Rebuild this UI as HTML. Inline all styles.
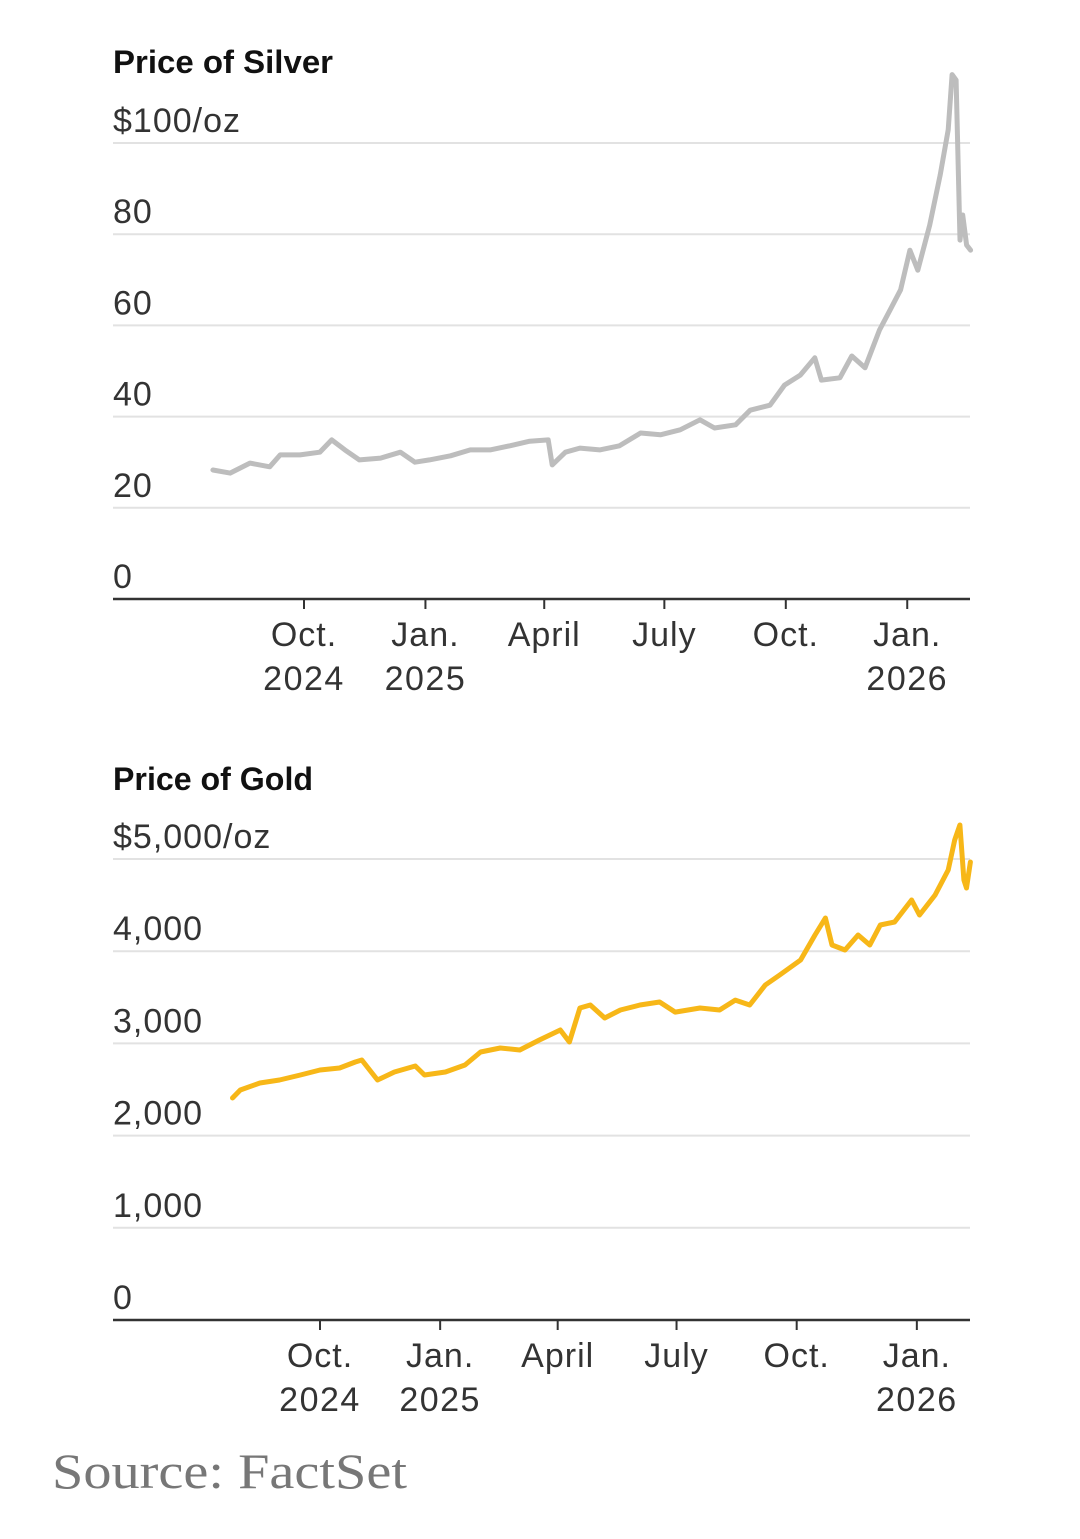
<!DOCTYPE html>
<html><head><meta charset="utf-8"><style>
html,body{margin:0;padding:0;background:#fff;}
body{width:1080px;height:1539px;position:relative;overflow:hidden;font-family:"Liberation Sans",sans-serif;}
svg{position:absolute;left:0;top:0;}
</style></head><body>
<svg id="chart" width="1080" height="1539" viewBox="0 0 1080 1539"></svg>
<script>
// Silver data: days since 2024-10-01, price $/oz
const silverDays = [-69,-56,-41,-26,-18,-3,12,21,31,42,58,73,84,95,111,126,141,156,171,185,188,198,209,224,239,255,270,285,300,311,327,338,353,364,376,387,392,406,415,425,436,444,452,459,465,474,482,488,491,494,497,499,502,505];
const silverValues = [28.3,27.6,29.8,29,31.6,31.6,32.2,34.9,32.7,30.5,30.9,32.2,30,30.5,31.4,32.7,32.7,33.6,34.6,34.9,29.4,32.2,33.1,32.7,33.6,36.4,36,37.1,39.3,37.5,38.2,41.4,42.5,46.9,49.1,52.9,48,48.5,53.3,50.7,59,63.4,67.8,76.5,72.1,82,93,102.9,115,113.8,78.7,84.2,77.6,76.5];
const silverTicks = [0,20,40,60,80,100];
const silverTickLabels = ["0","20","40","60","80","$100/oz"];
// Gold data
const goldDays = [-67,-61,-46,-31,-15,0,15,27,32,44,57,73,80,96,111,123,138,153,168,184,191,199,207,218,230,245,260,272,291,306,318,329,341,352,368,379,387,392,402,412,421,429,440,453,459,471,481,486,490,493,495,498];
const goldValues = [2408,2495,2570,2603,2657,2711,2733,2798,2820,2603,2690,2755,2657,2690,2766,2907,2950,2928,3037,3145,3015,3384,3416,3275,3362,3416,3449,3340,3384,3362,3470,3416,3633,3742,3905,4176,4360,4067,4013,4176,4067,4284,4317,4555,4393,4610,4881,5206,5369,4772,4685,4967];
const goldTicks = [0,1000,2000,3000,4000,5000];
const goldTickLabels = ["0","1,000","2,000","3,000","4,000","$5,000/oz"];
// X axis ticks: days since 2024-10-01
const monthTicks = [0,92,182,273,365,457];
const monthLabels = ["Oct.","Jan.","April","July","Oct.","Jan."];
const yearLabels = ["2024","2025","","","","2026"];

const NS="http://www.w3.org/2000/svg";
const svg=document.getElementById('chart');
function mk(tag,attrs,parent){const e=document.createElementNS(NS,tag);for(const k in attrs)e.setAttribute(k,attrs[k]);(parent||svg).appendChild(e);return e;}

function drawChart(cfg){
  const g=mk('g',{});
  
  
  const xs=d=>cfg.x0+d*cfg.xk;
  const ys=v=>cfg.base-v*cfg.yk;
  const t=mk('text',{x:113,y:cfg.titleY,'font-size':32,'font-weight':'bold',fill:'#111','textLength':cfg.titleLen,'lengthAdjust':'spacingAndGlyphs'},g);
  t.textContent=cfg.title;
  
  
  cfg.ticks.forEach((v,i)=>{
    const y=ys(v);
    if(v>0){
      const l=mk('line',{x1:113,x2:970,y1:y,y2:y,stroke:'#e2e2e2','stroke-width':2},g);
      
      
    }
    const tx=mk('text',{x:113,y:y-11,'font-size':34,fill:'#333','letter-spacing':1},g);
    tx.textContent=cfg.tickLabels[i];
    
    
  });
  const ax=mk('line',{x1:113,x2:970,y1:cfg.base,y2:cfg.base,stroke:'#333','stroke-width':2.5},g);
  
  
  monthTicks.forEach((d,i)=>{
    const x=xs(d);
    const tk=mk('line',{x1:x,x2:x,y1:cfg.base,y2:cfg.base+10,stroke:'#333','stroke-width':2},g);
    
    
    const m=mk('text',{x:x,y:cfg.base+47,'font-size':34,fill:'#333','text-anchor':'middle','letter-spacing':1},g);
    m.textContent=monthLabels[i];
    
    
    if(yearLabels[i]){
      const yr=mk('text',{x:x,y:cfg.base+91,'font-size':34,fill:'#333','text-anchor':'middle','letter-spacing':1.5},g);
      yr.textContent=yearLabels[i];
      
      
    }
  });
  const pts=cfg.days.map((d,i)=>xs(d).toFixed(1)+','+ys(cfg.values[i]).toFixed(1)).join(' ');
  const pl=mk('polyline',{points:pts,fill:'none',stroke:cfg.color,'stroke-width':5,'stroke-linejoin':'round','stroke-linecap':'round'},g);
  
  
}
drawChart({name:'silver-chart',title:'Price of Silver',titleLen:220,titleY:73,base:599,yk:4.56,x0:304,xk:1.32,ticks:silverTicks,tickLabels:silverTickLabels,days:silverDays,values:silverValues,color:'#bdbdbd',lineName:'silver-price-line'});
drawChart({name:'gold-chart',title:'Price of Gold',titleLen:200,titleY:790,base:1320,yk:0.0922,x0:320,xk:1.306,ticks:goldTicks,tickLabels:goldTickLabels,days:goldDays,values:goldValues,color:'#f7b718',lineName:'gold-price-line'});
const src=mk('text',{x:52,y:1488,'font-size':50,fill:'#777','font-family':'Liberation Serif, serif','textLength':355,'lengthAdjust':'spacingAndGlyphs'});
src.textContent='Source: FactSet';


</script>
</body></html>
